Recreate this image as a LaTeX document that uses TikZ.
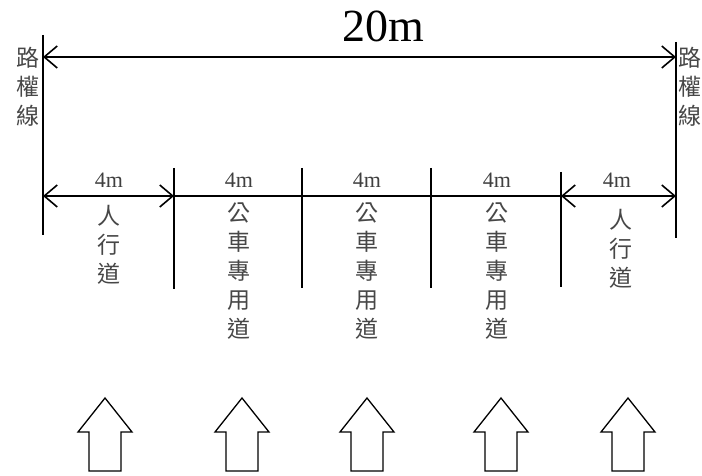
\documentclass[tikz,border=0pt]{standalone}
\usepackage{fontspec}
\setmainfont{Liberation Serif}
\newfontfamily\cjk{Noto Sans CJK TC}
\usetikzlibrary{arrows.meta}
\begin{document}
\begin{tikzpicture}[x=1pt,y=-1pt,
  dimline/.style={line width=1.6pt},
  vtext/.style={inner sep=0pt,align=center,text=black!72,font=\cjk\fontsize{23}{29}\selectfont},
  mtext/.style={inner sep=0pt,text=black!75,font=\fontsize{22}{24}\selectfont},
  blockarrow/.style={draw,line width=1.3pt,line join=miter},
  barbs/.style={{Straight Barb[length=13pt,width=22pt,line width=1.6pt]}-{Straight Barb[length=13pt,width=22pt,line width=1.6pt]}}]
\useasboundingbox (0,0) rectangle (702,476);
% boundary lines
\coordinate (LT) at (43,35);
\coordinate (LB) at (43,235);
\coordinate (RT) at (676,42);
\coordinate (RB) at (676,238);
\draw[dimline] (LT) -- (LB);
\draw[dimline] (RT) -- (RB);
% top dimension
\coordinate (TL) at (43,57);
\coordinate (TR) at (676,57);
\draw[dimline,barbs] (TL) -- (TR);
\node[inner sep=0pt,font=\fontsize{46}{50}\selectfont] (t20) at (383,26) {20m};
% labels
\node[vtext] (lblL) at (28,87) {路\\權\\線};
\node[vtext] (lblR) at (690,87) {路\\權\\線};
% inner dimension line
\coordinate (A) at (43,196);
\coordinate (B) at (174,196);
\coordinate (C) at (302,196);
\coordinate (D) at (431,196);
\coordinate (E) at (561,196);
\coordinate (F) at (676,196);
\draw[dimline] (A) -- (F);
\draw[dimline,barbs] (A) -- (B);
\draw[dimline,barbs] (E) -- (F);
% ticks
\coordinate (B1) at (174,168); \coordinate (B2) at (174,289);
\coordinate (C1) at (302,168); \coordinate (C2) at (302,288);
\coordinate (D1) at (431,168); \coordinate (D2) at (431,288);
\coordinate (E1) at (561,172); \coordinate (E2) at (561,287);
\draw[dimline] (B1) -- (B2);
\draw[dimline] (C1) -- (C2);
\draw[dimline] (D1) -- (D2);
\draw[dimline] (E1) -- (E2);
% 4m labels
\node[mtext] (m1) at (109,180) {4m};
\node[mtext] (m2) at (239,180) {4m};
\node[mtext] (m3) at (367,180) {4m};
\node[mtext] (m4) at (497,180) {4m};
\node[mtext] (m5) at (617,180) {4m};
% lane names
\node[vtext] (n1) at (109,245) {人\\行\\道};
\node[vtext] (n2) at (239,271) {公\\車\\專\\用\\道};
\node[vtext] (n3) at (367,271) {公\\車\\專\\用\\道};
\node[vtext] (n4) at (497,271) {公\\車\\專\\用\\道};
\node[vtext] (n5) at (621,249) {人\\行\\道};
% block arrows
\foreach \cx in {105,242,367,501,628}{
  \draw[blockarrow] (\cx,398) -- (\cx+27,432) -- (\cx+16,432) -- (\cx+16,471)
    -- (\cx-16,471) -- (\cx-16,432) -- (\cx-27,432) -- cycle;
}
\end{tikzpicture}
\end{document}
